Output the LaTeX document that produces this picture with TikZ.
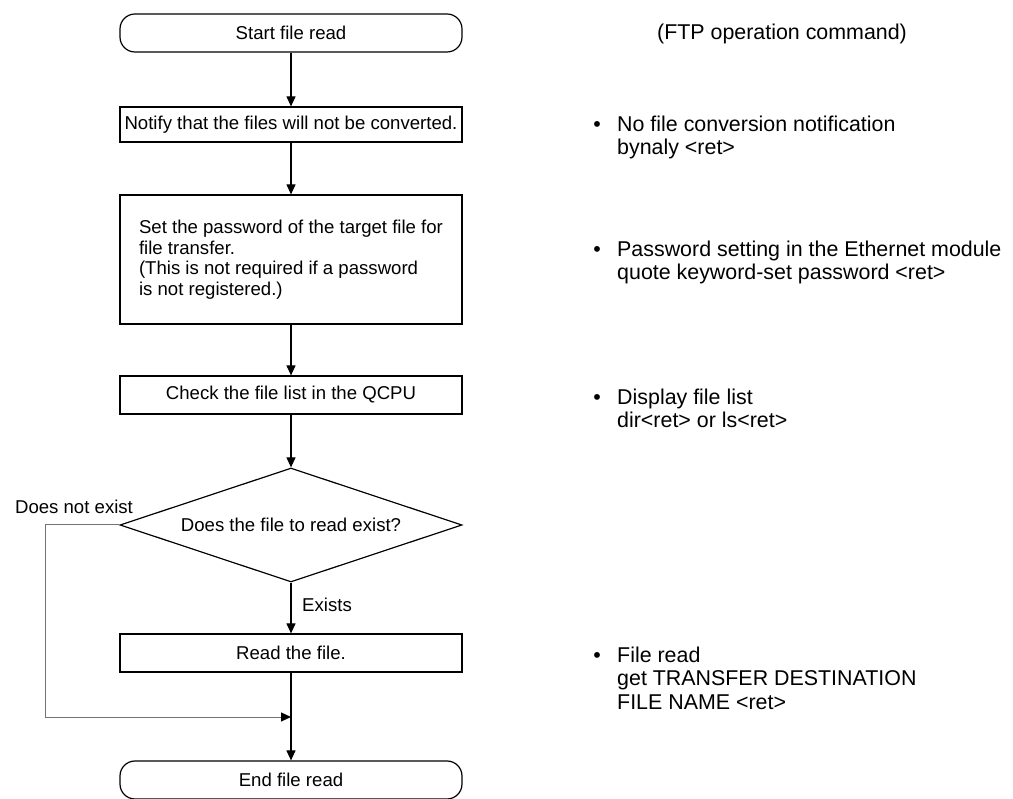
\documentclass[tikz,border=0pt]{standalone}
\usepackage{fontspec}
\setmainfont{Liberation Sans}
\usetikzlibrary{arrows.meta,shapes.geometric}
\begin{document}
\begin{tikzpicture}[x=1pt,y=-1pt,
  font=\fontsize{18.6}{20.6}\selectfont,
  proc/.style={draw, line width=1.2pt, minimum width=342pt, inner sep=0pt},
  term/.style={proc, rounded corners=15pt, minimum height=38pt},
  decision/.style={draw, line width=1.2pt, diamond, aspect=3, minimum width=342pt, minimum height=114pt, inner sep=0pt},
  flow/.style={draw, line width=1.1pt, -{Triangle[length=10pt,width=9pt]}},
  loopline/.style={draw=black!55, line width=1pt, -{Triangle[length=10pt,width=9pt,color=black]}},
  bigtext/.style={font=\fontsize{21.4}{24}\selectfont},
  cmdline/.style={bigtext, anchor=base west, inner sep=0pt},
  bulletmark/.style={bigtext, anchor=base, inner sep=0pt},
  lbl/.style={inner sep=0pt}]
\useasboundingbox (0,0) rectangle (1013,799);
% flow nodes
\node[term] (start) at (291,33) {Start file read};
\node[proc, minimum height=35pt] (notify) at (291,124.5) {Notify that the files will not be converted.};
\node[proc, minimum height=129pt, align=left] (pwd) at (291,259.5) {Set the password of the target file for\\file transfer.\\(This is not required if a password\\is not registered.)};
\node[proc, minimum height=38pt] (check) at (291,395) {Check the file list in the QCPU};
\node[decision] (dec) at (291,525) {Does the file to read exist?};
\node[proc, minimum height=38pt] (read) at (291,653) {Read the file.};
\node[term] (end) at (291,780) {End file read};
\coordinate (join) at (291,717);
% connectors
\draw[flow] (start) -- (notify);
\draw[flow] (notify) -- (pwd);
\draw[flow] (pwd) -- (check);
\draw[flow] (check) -- (dec);
\draw[flow] (dec) -- (read);
\draw[line width=1.1pt] (read) -- (join);
\draw[flow] (join) -- (end);
\draw[loopline] (dec.west) -- (45,525) |- (join);
% branch labels
\node[lbl] (nolbl) at (74,507) {Does not exist};
\node[lbl, anchor=west] (yeslbl) at (302,605) {Exists};
% right column
\node[lbl, bigtext] (ftp) at (782,34) {(FTP operation command)};
\node[bulletmark] (b1) at (597,131.5) {•};
\node[cmdline] (c1a) at (617,131.5) {No file conversion notification};
\node[cmdline] (c1b) at (617,155) {bynaly <ret>};
\node[bulletmark] (b2) at (597,256.5) {•};
\node[cmdline] (c2a) at (617,256.5) {Password setting in the Ethernet module};
\node[cmdline] (c2b) at (617,280) {quote keyword-set password <ret>};
\node[bulletmark] (b3) at (597,404.5) {•};
\node[cmdline] (c3a) at (617,404.5) {Display file list};
\node[cmdline] (c3b) at (617,428) {dir<ret> or ls<ret>};
\node[bulletmark] (b4) at (597,662) {•};
\node[cmdline] (c4a) at (617,662) {File read};
\node[cmdline] (c4b) at (617,685.5) {get TRANSFER DESTINATION};
\node[cmdline] (c4c) at (617,709) {FILE NAME <ret>};
\end{tikzpicture}
\end{document}
